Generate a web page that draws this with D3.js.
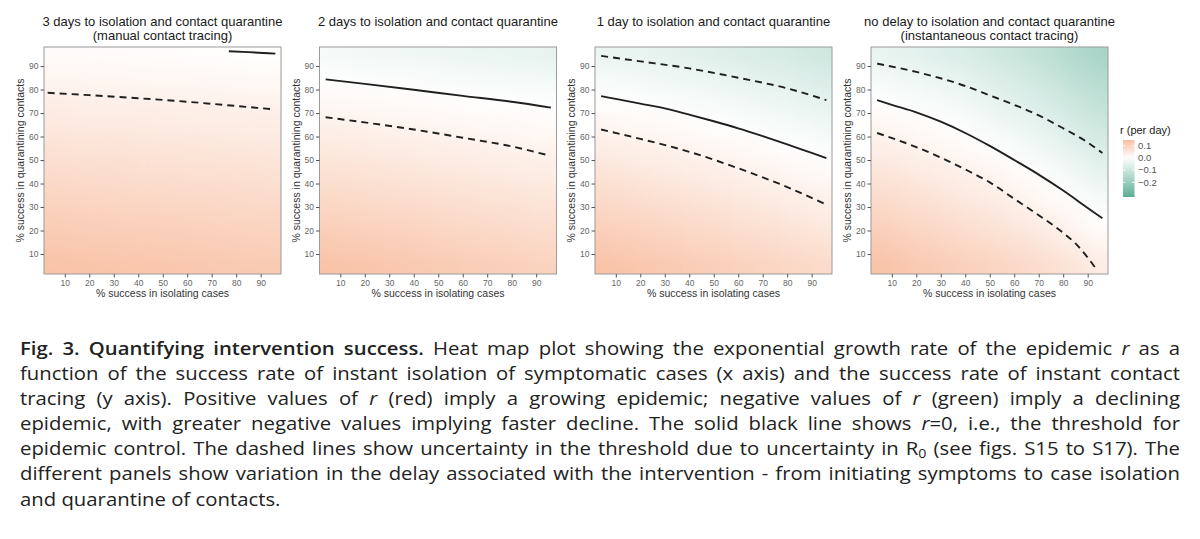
<!DOCTYPE html>
<html><head><meta charset="utf-8">
<script src="https://cdn.jsdelivr.net/npm/d3@7"></script>
<style>body{margin:0;background:#fff}svg{display:block}</style>
</head><body>
<svg id="chart" width="1200" height="539"></svg>
<script>
// ---------------- data ----------------
const panelTitles = [
  ["3 days to isolation and contact quarantine", "(manual contact tracing)"],
  ["2 days to isolation and contact quarantine"],
  ["1 day to isolation and contact quarantine"],
  ["no delay to isolation and contact quarantine", "(instantaneous contact tracing)"]
];
const xTicks = [10, 20, 30, 40, 50, 60, 70, 80, 90];
const yTicks = [10, 20, 30, 40, 50, 60, 70, 80, 90];
const gridX = [5, 15, 25, 35, 45, 55, 65, 75, 85, 95];
const gridY = [5, 15, 25, 35, 45, 55, 65, 75, 85, 95];
const legendTicks = [0.1, 0.0, -0.1, -0.2];
const legendLabels = ["0.1", "0.0", "\u22120.1", "\u22120.2"];

// r (per day) estimated at gridY rows (bottom to top) x gridX columns
const heat3days = [
  [.135,.133,.131,.129,.127,.125,.123,.121,.119,.117],
  [.121,.119,.117,.115,.113,.112,.110,.108,.106,.104],
  [.107,.105,.103,.101,.100,.098,.097,.095,.093,.091],
  [.093,.091,.090,.088,.086,.085,.083,.082,.080,.078],
  [.079,.077,.076,.074,.073,.071,.070,.069,.067,.065],
  [.065,.063,.062,.060,.059,.058,.057,.055,.054,.052],
  [.051,.049,.048,.047,.046,.045,.043,.042,.041,.040],
  [.037,.035,.034,.033,.032,.031,.030,.029,.028,.027],
  [.022,.022,.021,.020,.019,.018,.017,.016,.014,.014],
  [.008,.008,.007,.006,.005,.005,.003,.002,.001,.001]
];
const heat2days = [
  [.135,.131,.127,.123,.119,.115,.111,.107,.103,.099],
  [.118,.114,.110,.107,.103,.099,.095,.092,.088,.084],
  [.101,.097,.094,.091,.087,.083,.080,.077,.073,.069],
  [.084,.081,.077,.074,.071,.067,.064,.061,.058,.055],
  [.067,.064,.061,.058,.055,.052,.049,.046,.043,.040],
  [.050,.047,.044,.042,.039,.036,.033,.030,.028,.025],
  [.032,.030,.028,.025,.023,.020,.018,.015,.013,.010],
  [.016,.013,.011,.009,.006,.004,.002,.000,-.002,-.004],
  [-.001,-.004,-.006,-.008,-.011,-.014,-.017,-.019,-.022,-.025],
  [-.020,-.023,-.026,-.029,-.032,-.035,-.038,-.041,-.044,-.047]
];
const heat1day = [
  [.135,.129,.123,.117,.111,.105,.099,.093,.087,.081],
  [.116,.111,.105,.099,.093,.087,.082,.076,.070,.064],
  [.097,.092,.087,.081,.076,.070,.064,.058,.052,.046],
  [.079,.074,.068,.063,.058,.052,.047,.041,.035,.029],
  [.060,.055,.050,.045,.040,.035,.029,.024,.017,.011],
  [.041,.037,.032,.027,.022,.017,.012,.006,.000,-.007],
  [.022,.018,.014,.009,.005,.000,-.007,-.013,-.021,-.029],
  [.003,.000,-.005,-.011,-.016,-.022,-.028,-.035,-.043,-.051],
  [-.018,-.022,-.027,-.033,-.037,-.043,-.050,-.056,-.064,-.073],
  [-.041,-.045,-.049,-.054,-.059,-.065,-.071,-.077,-.086,-.094]
];
const heatNoDelay = [
  [.135,.126,.117,.108,.100,.092,.082,.071,.058,.042],
  [.116,.107,.099,.090,.081,.073,.062,.051,.037,.021],
  [.096,.088,.080,.071,.063,.054,.043,.030,.016,.000],
  [.077,.069,.062,.053,.044,.035,.023,.010,-.006,-.024],
  [.058,.051,.043,.035,.026,.015,.004,-.012,-.030,-.048],
  [.039,.032,.025,.016,.007,-.005,-.019,-.035,-.054,-.072],
  [.020,.013,.006,-.002,-.013,-.027,-.041,-.058,-.078,-.096],
  [.000,-.007,-.015,-.024,-.036,-.050,-.064,-.082,-.102,-.120],
  [-.022,-.029,-.036,-.045,-.057,-.072,-.087,-.105,-.126,-.144],
  [-.044,-.051,-.058,-.067,-.080,-.095,-.110,-.128,-.150,-.168]
];

// contour lines [x, y]
const solid3days = [[77,96.3],[85,95.9],[96,95.3]];
const dashLow3days = [[3,78.6],[20,77.6],[40,76.3],[60,74.8],[80,73.0],[95,71.6]];
const solid2days = [[4,84.3],[20,82.4],[40,79.9],[60,77.3],[80,74.8],[96,72.3]];
const dashLow2days = [[4,68.2],[20,66.0],[40,63.0],[60,59.5],[80,55.8],[95,52.0]];
const solid1day = [[4,77.2],[10,76.0],[20,74.0],[30,72.0],[40,69.3],[50,66.5],[60,63.5],[70,60.2],[80,56.7],[90,53.0],[96,50.8]];
const dashUp1day = [[4,94.3],[20,92.0],[40,89.0],[60,85.0],[80,80.5],[96,75.5]];
const dashLow1day = [[4,63.0],[20,59.0],[40,53.5],[60,46.5],[80,38.5],[96,31.0]];
const solidNoDelay = [[4,75.5],[10,73.5],[20,70.3],[30,66.3],[40,61.5],[50,56.0],[60,50.0],[70,43.8],[80,37.0],[90,29.6],[96,25.2]];
const dashUpNoDelay = [[4,91.0],[20,87.5],[40,81.5],[50,77.5],[60,73.5],[70,69.0],[80,63.5],[90,57.5],[96,53.0]];
const dashLowNoDelay = [[4,61.5],[20,55.5],[40,46.0],[50,40.5],[60,33.5],[70,26.5],[80,19.0],[85,14.5],[90,8.5],[93.2,4.0]];

const captionLines = [
  "**Fig.** **3.** **Quantifying** **intervention** **success.** Heat map plot showing the exponential growth rate of the epidemic *r* as a",
  "function of the success rate of instant isolation of symptomatic cases (x axis) and the success rate of instant contact",
  "tracing (y axis). Positive values of *r* (red) imply a growing epidemic; negative values of *r* (green) imply a declining",
  "epidemic, with greater negative values implying faster decline. The solid black line shows *r*=0, i.e., the threshold for",
  "epidemic control. The dashed lines show uncertainty in the threshold due to uncertainty in R_0 (see figs. S15 to S17). The",
  "different panels show variation in the delay associated with the intervention - from initiating symptoms to case isolation",
  "and quarantine of contacts."
];

const panels = [
  {title: panelTitles[0], heat: heat3days, solid: solid3days, dashed: [dashLow3days]},
  {title: panelTitles[1], heat: heat2days, solid: solid2days, dashed: [dashLow2days]},
  {title: panelTitles[2], heat: heat1day, solid: solid1day, dashed: [dashUp1day, dashLow1day]},
  {title: panelTitles[3], heat: heatNoDelay, solid: solidNoDelay, dashed: [dashUpNoDelay, dashLowNoDelay]}
];

// ---------------- drawing ----------------
const svg = d3.select("#chart");
const FONT = "'Liberation Sans', Arial, sans-serif";
const CAPFONT = "'Open Sans', 'Liberation Sans', sans-serif";
const color = d3.scaleLinear().domain([-0.32, 0, 0.146]).range(["#5aae94", "#ffffff", "#f8bea0"]).clamp(true);

const defs = svg.append("defs");
defs.append("filter").attr("id", "smooth")
  .attr("x", "-10%").attr("y", "-10%").attr("width", "120%").attr("height", "120%")
  .append("feGaussianBlur").attr("stdDeviation", 9);

const lefts = [44, 319.5, 595, 871];
const plotW = 237, pTop = 47, pBottom = 274;

panels.forEach((p, i) => {
  const L = lefts[i];
  const x = d3.scaleLinear().domain([1.5, 98.3]).range([L, L + plotW]);
  const y = d3.scaleLinear().domain([1.5, 98.1]).range([pBottom, pTop]);
  const g = svg.append("g");

  const clipId = "clip" + i;
  defs.append("clipPath").attr("id", clipId).append("rect")
    .attr("x", L).attr("y", pTop).attr("width", plotW).attr("height", pBottom - pTop);

  const cells = [];
  p.heat.forEach((row, ri) => row.forEach((v, ci) => cells.push({ri, ci, v})));
  const hg = g.append("g").attr("clip-path", `url(#${clipId})`)
    .append("g").attr("filter", "url(#smooth)");
  hg.selectAll("rect").data(cells).join("rect")
    .attr("x", d => x(gridX[d.ci] - 5) - (d.ci === 0 ? 30 : 0))
    .attr("width", d => x(gridX[d.ci] + 5) - x(gridX[d.ci] - 5) + (d.ci === 0 || d.ci === 9 ? 30 : 0) + 0.5)
    .attr("y", d => y(gridY[d.ri] + 5) - (d.ri === 9 ? 30 : 0))
    .attr("height", d => y(gridY[d.ri] - 5) - y(gridY[d.ri] + 5) + (d.ri === 0 || d.ri === 9 ? 30 : 0) + 0.5)
    .attr("fill", d => color(d.v));

  const line = d3.line().x(d => x(d[0])).y(d => y(d[1])).curve(d3.curveMonotoneX);
  const lg = g.append("g").attr("clip-path", `url(#${clipId})`);
  p.dashed.forEach(dd => {
    lg.append("path").attr("d", line(dd)).attr("fill", "none")
      .attr("stroke", "#1f1f1f").attr("stroke-width", 1.9).attr("stroke-dasharray", "7,5");
  });
  lg.append("path").attr("d", line(p.solid)).attr("fill", "none")
    .attr("stroke", "#1f1f1f").attr("stroke-width", 1.9);

  g.append("rect").attr("x", L).attr("y", pTop).attr("width", plotW).attr("height", pBottom - pTop)
    .attr("fill", "none").attr("stroke", "#9a9a9a").attr("stroke-width", 1);

  const xa = g.append("g").attr("transform", `translate(0,${pBottom})`)
    .call(d3.axisBottom(x).tickValues(xTicks).tickSize(3.5).tickPadding(2));
  const ya = g.append("g").attr("transform", `translate(${L},0)`)
    .call(d3.axisLeft(y).tickValues(yTicks).tickSize(3.5).tickPadding(2));
  [xa, ya].forEach(a => {
    a.select(".domain").remove();
    a.selectAll("line").attr("stroke", "#555");
    a.selectAll("text").attr("fill", "#666").style("font-family", FONT).style("font-size", "8.5px");
  });

  const cx = L + plotW / 2;
  p.title.forEach((t, k) => {
    g.append("text").attr("x", cx).attr("y", 26 + k * 13.5).attr("text-anchor", "middle")
      .style("font-family", FONT).style("font-size", "13px").attr("fill", "#1a1a1a").text(t);
  });
  g.append("text").attr("x", cx).attr("y", 297).attr("text-anchor", "middle")
    .style("font-family", FONT).style("font-size", "10.5px").attr("fill", "#333")
    .text("% success in isolating cases");
  g.append("text").attr("transform", `translate(${L - 20},${(pTop + pBottom) / 2}) rotate(-90)`)
    .attr("text-anchor", "middle")
    .style("font-family", FONT).style("font-size", "10.5px").attr("fill", "#333")
    .text("% success in quarantining contacts");
});

// legend
const lx = 1123, lTop = 140, lBot = 197, lW = 11.5;
const ls = d3.scaleLinear().domain([0.146, -0.32]).range([lTop, lBot]);
const grad = defs.append("linearGradient").attr("id", "lgrad").attr("x1", 0).attr("y1", 0).attr("x2", 0).attr("y2", 1);
d3.range(0, 11).map(k => 0.146 - k * (0.466 / 10)).forEach((v, k) => {
  grad.append("stop").attr("offset", (k * 10) + "%").attr("stop-color", color(v));
});
svg.append("text").attr("x", 1120).attr("y", 134).style("font-family", FONT).style("font-size", "11px")
  .attr("fill", "#222").text("r (per day)");
svg.append("rect").attr("x", lx).attr("y", lTop).attr("width", lW).attr("height", lBot - lTop).attr("fill", "url(#lgrad)");
legendTicks.forEach((v, k) => {
  svg.append("line").attr("x1", lx).attr("x2", lx + 2.5).attr("y1", ls(v)).attr("y2", ls(v)).attr("stroke", "#fff").attr("stroke-width", 0.8);
  svg.append("line").attr("x1", lx + lW - 2.5).attr("x2", lx + lW).attr("y1", ls(v)).attr("y2", ls(v)).attr("stroke", "#fff").attr("stroke-width", 0.8);
  svg.append("text").attr("x", lx + lW + 3.5).attr("y", ls(v) + 3.2).style("font-family", FONT).style("font-size", "9.5px")
    .attr("fill", "#555").text(legendLabels[k]);
});

// caption (justified); glyphs drawn at 18.3px and widened horizontally
const capFS = 18.3, capSX = 1.11, capX = 20, capW = 1160 / capSX, capY0 = 355, capDY = 25.1;
const capG = svg.append("g").attr("transform", `translate(${capX},0) scale(${capSX},1)`);
captionLines.forEach((ln, li) => {
  const words = ln.split(" ");
  const nodes = words.map(w => {
    const t = capG.append("text").attr("y", capY0 + li * capDY)
      .style("font-family", CAPFONT).style("font-size", capFS + "px").attr("fill", "#222");
    let bold = false, word = w;
    if (/^\*\*.*\*\*$/.test(word)) { bold = true; word = word.slice(2, -2); }
    word.split(/(\*[^*]+\*|R_0)/).filter(s => s.length).forEach(seg => {
      if (seg === "R_0") {
        t.append("tspan").text("R");
        t.append("tspan").attr("dy", 3).style("font-size", (capFS * 0.7) + "px").text("0");
        t.append("tspan").attr("dy", -3).text("");
      } else if (seg[0] === "*") {
        t.append("tspan").style("font-style", "italic").text(seg.slice(1, -1));
      } else {
        t.append("tspan").text(seg);
      }
    });
    if (bold) t.style("font-weight", "600");
    return t;
  });
  const widths = nodes.map(n => n.node().getComputedTextLength());
  const total = d3.sum(widths);
  const last = li === captionLines.length - 1;
  let gap = last ? capFS * 0.26 : (capW - total) / (words.length - 1);
  if (!last && gap < 3.5) {
    const sc = (capW - 3.5 * (words.length - 1)) / total;
    gap = 3.5;
    nodes.forEach((n, k) => { n.attr("textLength", widths[k] * sc).attr("lengthAdjust", "spacingAndGlyphs"); widths[k] *= sc; });
  }
  let cx = 0;
  nodes.forEach((n, k) => { n.attr("x", cx); cx += widths[k] + gap; });
});
</script>
</body></html>
